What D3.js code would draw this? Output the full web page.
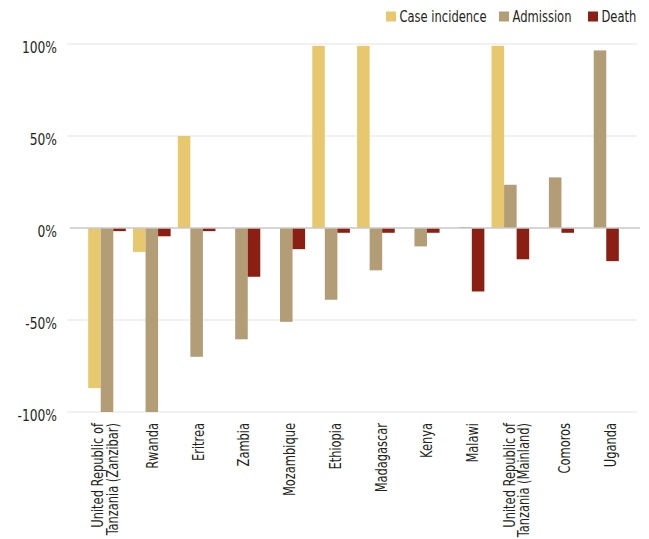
<!DOCTYPE html>
<html>
<head>
<meta charset="utf-8">
<script src="https://cdn.jsdelivr.net/npm/d3@7"></script>
<style>
  html, body { margin: 0; padding: 0; background: #fff; }
  svg { display: block; }
  text { font-family: "Liberation Sans Narrow", "Arial Narrow", "DejaVu Sans Condensed", "Roboto", sans-serif; fill: #231f20; }
</style>
</head>
<body>
<svg id="chart" width="649" height="539"></svg>
<script>
const countries = [
  ["United Republic of", "Tanzania (Zanzibar)"],
  ["Rwanda"], ["Eritrea"], ["Zambia"], ["Mozambique"], ["Ethiopia"],
  ["Madagascar"], ["Kenya"], ["Malawi"],
  ["United Republic of", "Tanzania (Mainland)"],
  ["Comoros"], ["Uganda"]
];
const seriesNames = ["Case incidence", "Admission", "Death"];
const caseIncidence = [-87, -13, 50, 0, 0, 99, 99, 0, 0, 99, 0, 0];
const admission     = [-100, -100, -70, -60.5, -51, -39, -23, -10, 0.5, 23.5, 27.5, 96.5];
const death         = [-1.7, -4.5, -1.7, -26.5, -11.5, -2.6, -2.6, -2.6, -34.5, -17, -2.6, -18];
const yTicks = [100, 50, 0, -50, -100];
const colors = ["#E8C86E", "#B39D77", "#8C1F14"];

const svg = d3.select("#chart");
const keys = countries.map(c => c.join(" "));
const seriesValues = [caseIncidence, admission, death];

const x0 = d3.scaleBand().domain(keys).range([84.6, 622.4]).paddingInner(0.16).paddingOuter(0.08);
const x1 = d3.scaleBand().domain(seriesNames).range([0, x0.bandwidth()]);
const y = d3.scaleLinear().domain([-100, 100]).range([412, 44]);
const labelX = d3.scalePoint().domain(keys).range([106.5, 610]);
const color = d3.scaleOrdinal().domain(seriesNames).range(colors);

// fit a group of texts to the condensed look of the original
function condense(sel, size, probeText, target) {
  const probe = svg.append("text").attr("font-size", size).text(probeText);
  const w = probe.node().getComputedTextLength();
  probe.remove();
  const k = target / w;
  if (Math.abs(k - 1) < 0.03) return;
  sel.each(function() {
    const el = d3.select(this);
    const spans = el.selectAll("tspan");
    const nodes = spans.size() ? spans.nodes() : [this];
    nodes.forEach(n => {
      const L = n.getComputedTextLength();
      d3.select(n).attr("textLength", L * k).attr("lengthAdjust", "spacingAndGlyphs");
    });
  });
}

// gridlines
svg.append("g").selectAll("line").data(yTicks.filter(t => t !== 0)).join("line")
  .attr("x1", 67).attr("x2", 637)
  .attr("y1", d => y(d)).attr("y2", d => y(d))
  .attr("stroke", "#e3e3e3").attr("stroke-width", 1.2);

// y tick labels
const ticks = svg.append("g").selectAll("text").data(yTicks).join("text")
  .attr("x", 57).attr("y", d => y(d) + 8.5)
  .attr("text-anchor", "end")
  .attr("font-size", 16.5)
  .text(d => d + "%");
condense(ticks, 16.5, "100%", 35);

// bars
const rows = keys.map((k, i) => seriesNames.map((s, j) => ({ key: k, series: s, value: seriesValues[j][i] })));
svg.append("g").selectAll("g").data(rows).join("g")
  .attr("transform", d => `translate(${x0(d[0].key)},0)`)
  .selectAll("rect").data(d => d.filter(v => v.value !== 0)).join("rect")
  .attr("x", d => x1(d.series))
  .attr("width", x1.bandwidth())
  .attr("y", d => y(Math.max(0, d.value)))
  .attr("height", d => Math.abs(y(d.value) - y(0)))
  .attr("fill", d => color(d.series));

// zero line
svg.append("line").attr("x1", 70).attr("x2", 640)
  .attr("y1", y(0)).attr("y2", y(0))
  .attr("stroke", "#c9c9c9").attr("stroke-width", 1.6);

// x labels
const lab = svg.append("g").selectAll("text").data(countries).join("text")
  .attr("transform", (d, i) => `translate(${labelX(keys[i])},423) rotate(-90)`)
  .attr("text-anchor", "end")
  .attr("font-size", 16);
lab.each(function(d) {
  const t = d3.select(this);
  if (d.length === 1) {
    t.append("tspan").attr("x", 0).attr("y", 5.5).text(d[0]);
  } else {
    t.append("tspan").attr("x", 0).attr("y", -3.5).text(d[0]);
    t.append("tspan").attr("x", 0).attr("y", 11).text(d[1]);
  }
});
condense(lab, 16, "Mozambique", 73);

// legend
const legendX = [386, 499, 588];
const lg = svg.append("g").selectAll("g").data(seriesNames).join("g")
  .attr("transform", (d, i) => `translate(${legendX[i]},0)`);
lg.append("rect").attr("x", 0).attr("y", 11.5).attr("width", 10).attr("height", 10)
  .attr("fill", d => color(d));
const lgt = lg.append("text").attr("x", 13.5).attr("y", 22).attr("font-size", 16).text(d => d);
condense(lgt, 16, "Case incidence", 87);
</script>
</body>
</html>
